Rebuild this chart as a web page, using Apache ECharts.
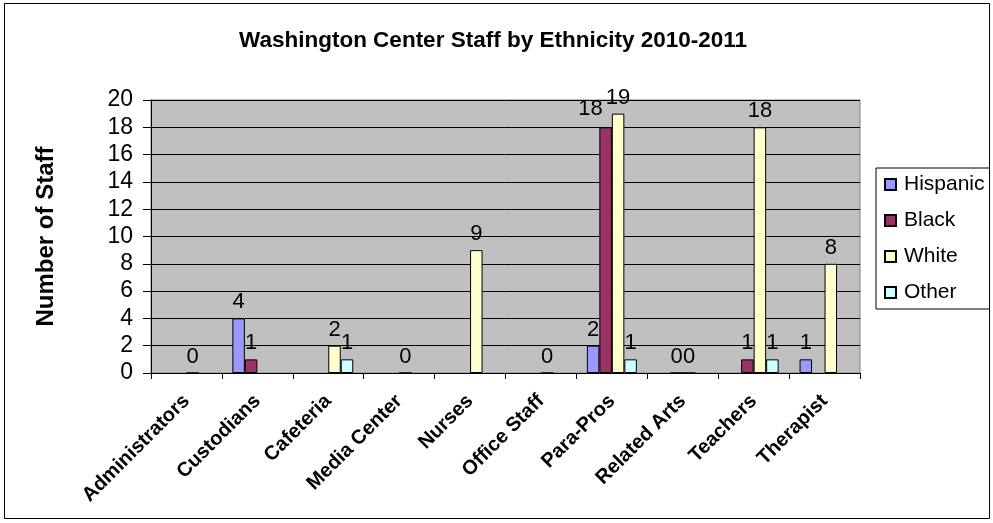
<!DOCTYPE html>
<html>
<head>
<meta charset="utf-8">
<script src="https://cdn.jsdelivr.net/npm/echarts@6/dist/echarts.min.js"></script>
<style>html,body{margin:0;padding:0;background:#fff}#c{width:993px;height:523px}</style>
</head>
<body>
<div id="c"></div>
<script>
var titleText = 'Washington Center Staff by Ethnicity 2010-2011';
var yAxisName = 'Number of Staff';
var categories = ['Administrators','Custodians','Cafeteria','Media Center','Nurses','Office Staff','Para-Pros','Related Arts','Teachers','Therapist'];
var seriesNames = ['Hispanic','Black','White','Other'];
var hispanic = [null, 4, null, null, null, null, 2, null, null, 1];
var black    = [null, 1, null, null, null, null, 18, 0, 1, null];
var white    = [0, null, 2, 0, 9, 0, 19, 0, 18, 8];
var other    = [null, null, 1, null, null, null, 1, null, 1, null];
var colors = ['#9999FF','#993366','#FFFFCC','#CCFFFF'];
var yTicks = {min: 0, max: 20, interval: 2};

var FONT = 'Liberation Sans, Arial, sans-serif';
var chart = echarts.init(document.getElementById('c'));
var allData = [hispanic, black, white, other];
var series = seriesNames.map(function(n, i){
  var data = allData[i].map(function(v, j){
    // Para-Pros "18" label sits left of its bar in the original
    if (i === 1 && categories[j] === 'Para-Pros') {
      return {value: v, label: {offset: [-15, -2]}};
    }
    return v;
  });
  return {
    name: n, type: 'bar', data: data, barWidth: 12.5, barGap: '0%',
    itemStyle: {color: colors[i], borderColor: '#000', borderWidth: 1},
    label: {show: true, position: 'top', distance: 5, color: '#000', fontSize: 22, fontFamily: FONT},
    emphasis: {disabled: true},
    animation: false
  };
});
chart.setOption({
  animation: false,
  textStyle: {fontFamily: FONT},
  title: {text: titleText, left: 488, textAlign: 'center', top: 24,
    textStyle: {fontSize: 22.5, fontWeight: 'bold', color: '#000', fontFamily: FONT}},
  graphic: [{type: 'rect', shape: {x: 4.5, y: 3.5, width: 985, height: 515}, style: {fill: 'none', stroke: '#000', lineWidth: 1}, z: -1}],
  legend: {
    orient: 'vertical', left: 876, top: 168, data: seriesNames,
    itemWidth: 11, itemHeight: 11, itemGap: 15, padding: [6, 5, 6, 8],
    borderColor: '#000', borderWidth: 1, backgroundColor: '#fff',
    icon: 'rect',
    textStyle: {fontSize: 21, color: '#000', fontFamily: FONT, lineHeight: 20, padding: [0,0,0,3]}
  },
  grid: {left: 151, right: 133, top: 100, bottom: 150, show: true, backgroundColor: '#C0C0C0', borderColor: '#808080', borderWidth: 1},
  xAxis: {
    type: 'category', data: categories,
    axisLine: {lineStyle: {color: '#000', width: 1}},
    axisTick: {show: true, length: 6, lineStyle: {color: '#000'}},
    axisLabel: {rotate: 45, interval: 0, color: '#000', fontSize: 20, fontWeight: 'bold', fontFamily: FONT, margin: 25}
  },
  yAxis: {
    type: 'value', min: yTicks.min, max: yTicks.max, interval: yTicks.interval,
    name: yAxisName, nameLocation: 'middle', nameGap: 93, nameRotate: 90,
    nameTextStyle: {fontSize: 24, fontWeight: 'bold', color: '#000', fontFamily: FONT},
    axisLine: {show: true, lineStyle: {color: '#000', width: 1}},
    axisTick: {show: true, length: 8, lineStyle: {color: '#000'}},
    splitLine: {show: true, lineStyle: {color: '#000', width: 1}},
    axisLabel: {color: '#000', fontSize: 23, fontFamily: FONT, margin: 18}
  },
  series: series
});
</script>
</body>
</html>
